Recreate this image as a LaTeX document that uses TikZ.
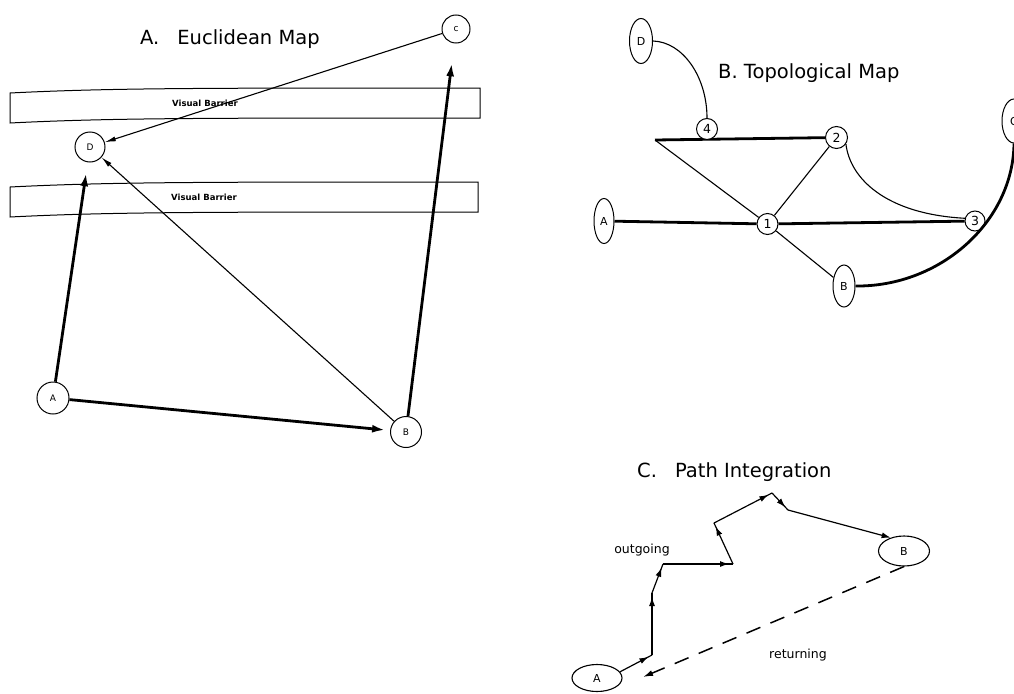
\documentclass[tikz,border=0pt]{standalone}
\usepackage{fontspec}
\setmainfont{DejaVu Sans}
\usetikzlibrary{arrows.meta,decorations.markings,shapes.geometric,calc}
\tikzset{
  titletext/.style={font=\fontsize{19.5}{22}\selectfont, inner sep=0pt, anchor=base west},
  bartext/.style={font=\fontsize{8.5}{9}\selectfont\bfseries, inner sep=0pt},
  smalltext/.style={font=\fontsize{12.5}{14}\selectfont, inner sep=0pt, anchor=base},
  barrier/.style={draw, line width=1pt},
  acirc/.style={circle, draw, line width=1pt, minimum size=30pt, inner sep=0pt, fill=white, font=\fontsize{9}{9}\selectfont},
  thickarr/.style={line width=2.8pt, -{Latex[length=13pt,width=8pt]}},
  thinarr/.style={line width=1.1pt, -{Latex[length=11pt,width=5pt]}},
  tcirc/.style={circle, draw, line width=1pt, minimum size=21pt, inner sep=0pt, fill=white, font=\fontsize{12.5}{12.5}\selectfont},
  tell/.style={ellipse, draw, line width=1pt, minimum width=21pt, minimum height=44pt, inner sep=0pt, fill=white, font=\fontsize{11}{11}\selectfont},
  tthick/.style={line width=2.8pt},
  tthin/.style={line width=1.1pt},
  cell/.style={ellipse, draw, line width=1.1pt, inner sep=0pt, fill=white, font=\fontsize{11}{11}\selectfont},
  seg/.style={line width=1.2pt, postaction={decorate},
    decoration={markings, mark=at position -4pt with {\arrow{Latex[length=9pt,width=6pt]}}}},
  lastseg/.style={line width=1.2pt, -{Latex[length=9pt,width=6pt]}},
  retarr/.style={line width=1.5pt, dash pattern=on 15pt off 11pt, -{Latex[length=10pt,width=6pt]}}
}
\begin{document}
\begin{tikzpicture}[x=1pt,y=-1pt]
\useasboundingbox[fill=white] (0,0) rectangle (1014,693);

% ---------------- Panel A ----------------
\node[titletext] (tA) at (140,45) {A.\hspace{18pt}Euclidean Map};

\draw[barrier] (10,93) .. controls (110,88) and (200,88) .. (480,88) -- (480,118)
   .. controls (200,118) and (110,118) .. (10,123) -- cycle;
\draw[barrier] (10,187) .. controls (110,182) and (200,182) .. (478,182) -- (478,212)
   .. controls (200,212) and (110,212) .. (10,217) -- cycle;
\node[bartext] (vb1) at (205,103) {Visual Barrier};
\node[bartext] (vb2) at (204,197) {Visual Barrier};

\node[acirc, minimum size=28pt] (eC) at (456,29) {c};
\node[acirc] (eD) at (90,147) {D};
\node[acirc, minimum size=32pt] (eA) at (53,398) {A};
\node[acirc, minimum size=31pt] (eB) at (406,432) {B};

\draw[thickarr, shorten >=11pt] (eA) -- (eD);
\draw[thickarr, shorten >=5pt] (eA) -- (eB);
\draw[thickarr, shorten >=20pt] (eB) -- (eC);
\draw[thinarr] (eB) -- (eD);
\draw[thinarr] (eC) -- (eD);

% ---------------- Panel B ----------------
\node[titletext] (tB) at (718,78) {B. Topological Map};

\coordinate (corner) at (655,140);
\node[tell, minimum width=23pt, minimum height=45pt] (bD) at (641,41) {D};
\node[tcirc, minimum size=22pt] (b2) at (836.5,137.5) {2};
\node[tcirc] (b1) at (767.5,224) {1};
\node[tcirc, minimum size=20pt] (b3) at (975,221) {3};
\node[tell, minimum width=20pt, minimum height=45pt] (bA) at (604,221) {A};
\node[tell, minimum width=22pt, minimum height=42pt] (bB) at (844,286) {B};
\node[tell, minimum width=24pt, minimum height=44pt] (bC) at (1014,121) {C};

\draw[tthick] (corner) -- (b2);
\node[tcirc] (b4) at (707,129) {4};
\draw[tthin] (corner) -- (b1);
\draw[tthin] (b1) -- (b2);
\draw[tthin] (b2.-35) .. controls (850,178) and (885,214) .. (b3.165);
\draw[tthick] (bA) -- (b1);
\draw[tthick] (b1) -- (b3);
\draw[tthin] (b1) -- (bB);
\draw[tthick] (bB.east) .. controls (940,287) and (1013,222) .. (bC.south);
\draw[tthin] (bD.east) .. controls (683,42) and (707,77) .. (b4.north);

% ---------------- Panel C ----------------
\node[titletext] (tC) at (637,477) {C.\hspace{18pt}Path Integration};

\node[cell, minimum width=50pt, minimum height=27pt] (cA) at (597,678) {A};
\node[cell, minimum width=51pt, minimum height=30pt] (cB) at (904,551) {B};

\coordinate (p1) at (652,655);
\coordinate (p2) at (652,593);
\coordinate (p3) at (663,564);
\coordinate (p4) at (733,564);
\coordinate (p5) at (714,523);
\coordinate (p6) at (772,493);
\coordinate (p7) at (788,510);
\coordinate (cTip) at (643,677);

\draw[seg] (cA.15) -- (p1);
\draw[seg] (p1) -- (p2);
\draw[seg] (p2) -- (p3);
\draw[seg] (p3) -- (p4);
\draw[seg] (p4) -- (p5);
\draw[seg] (p5) -- (p6);
\draw[seg] (p6) -- (p7);
\draw[lastseg] (p7) -- (cB.135);

\draw[retarr] (cB.south) -- (cTip);

\node[smalltext] (outg) at (642,553) {outgoing};
\node[smalltext] (retn) at (798,658) {returning};
\end{tikzpicture}
\end{document}
